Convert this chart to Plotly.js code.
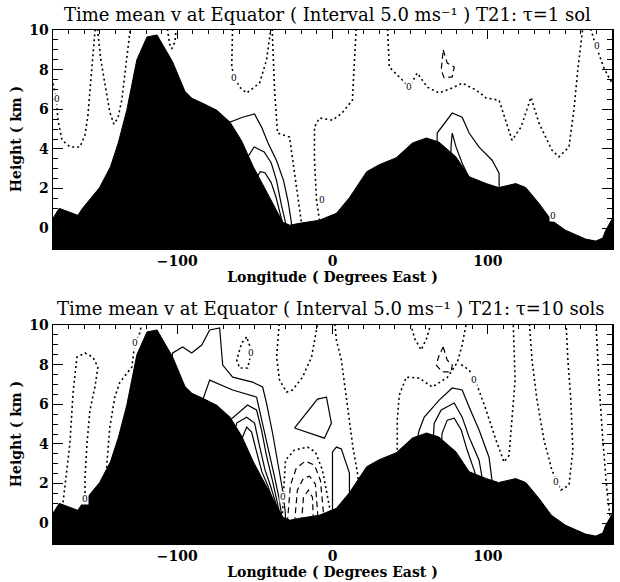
<!DOCTYPE html>
<html>
<head>
<meta charset="utf-8">
<script src="https://cdn.plot.ly/plotly-3.0.1.min.js"></script>
<style>html,body{margin:0;padding:0;background:#fff;}#chart{width:620px;height:582px;}</style>
</head>
<body>
<div id="chart"></div>
<script>
// ---------- axes ----------
const lonRange = [-180, 180];
const hgtRange = [-1, 10];
const lonTicks = [-100, 0, 100];
const hgtTicks = [0, 2, 4, 6, 8, 10];

// ---------- titles ----------
const titleTop = 'Time mean v at Equator ( Interval 5.0 ms⁻¹ ) T21: τ=1 sol';
const titleBot = 'Time mean v at Equator ( Interval 5.0 ms⁻¹ ) T21: τ=10 sols';
const xTitle = 'Longitude ( Degrees East )';
const yTitle = 'Height ( km )';

// ---------- topography along the equator (km) ----------
const topoLon = [-180, -176, -164, -161, -150, -143, -138, -132.5, -126, -119.5, -113, -103, -95, -90.5, -83.5, -74.5, -66, -58.5, -51, -41.5, -32, -27.5, -21, -8.5, 2.5, 11, 22, 30, 41, 51.5, 60.5, 68.5, 79.5, 88, 99, 107, 118, 124.5, 133, 141, 150, 163, 169.5, 174, 176, 180];
const topoHgt = [0.5, 1.0, 0.65, 1.0, 2.05, 3.1, 4.3, 5.95, 8.5, 9.65, 9.75, 8.4, 6.9, 6.55, 6.3, 5.95, 5.35, 4.4, 3.1, 1.7, 0.3, 0.15, 0.25, 0.4, 0.75, 1.55, 2.85, 3.2, 3.55, 4.3, 4.55, 4.35, 3.6, 2.6, 2.25, 2.05, 2.25, 2.05, 1.25, 0.4, -0.1, -0.55, -0.65, -0.5, -0.1, 0.45];

// ---------- tau = 1 sol : zero contours ----------
const t1ZeroALon = [-180, -178, -176.8, -174.2, -169, -162.6, -159.4, -157.5, -155.6, -154.3, -153, -152.6];
const t1ZeroAHgt = [7.3, 6.6, 5.45, 4.45, 4.1, 4.1, 4.7, 5.7, 7.5, 9.0, 10.0, 10.3];
const t1ZeroBLon = [-151.7, -149.2, -145.9, -143.4, -140.8, -138.2, -135.7, -133.1, -131.2, -129.9];
const t1ZeroBHgt = [10.3, 8.5, 6.97, 5.86, 5.25, 5.56, 6.46, 8.23, 9.5, 10.3];
const t1ZeroCLon = [-106.7, -105, -103.5, -101.5, -100.3];
const t1ZeroCHgt = [10.3, 9.3, 9.05, 9.4, 10.3];
const t1ZeroDLon = [-64.3, -64.9, -63, -59.8, -55.3, -47, -42.5, -39.3];
const t1ZeroDHgt = [10.3, 8.13, 7.58, 7.12, 6.82, 7.32, 8.48, 10.3];
const t1ZeroELon = [-39, -37.3, -35.4, -27.7, -23.8, -20, -19.5];
const t1ZeroEHgt = [10.3, 6.97, 4.8, 4.6, 2.42, 0.4, 0];
const t1ZeroFLon = [15.4, 12.8, 6, 0, -8.4, -11.6, -11.6, -10.3, -8.4, -8];
const t1ZeroFHgt = [10.3, 6.46, 5.8, 5.45, 5.56, 5.1, 3.43, 1.41, 0.4, 0];
const t1ZeroGLon = [35.3, 36.6, 43, 49.4, 54.6, 61, 68.7, 77, 83.5, 92.5, 98.9, 107.3, 115.6, 121.4, 127.8, 133, 141.3, 145.8, 152.3, 155.5, 158, 160, 161.5];
const t1ZeroGHgt = [10.3, 8.13, 7.63, 7.12, 7.83, 7.12, 6.82, 7.07, 7.32, 6.97, 6.57, 6.46, 4.44, 5.1, 6.6, 5.3, 3.94, 3.6, 4.09, 6.0, 8.0, 9.5, 10.3];
const t1ZeroHLon = [165.5, 168, 171.5, 174.7, 178, 180.5];
const t1ZeroHHgt = [10.3, 9.6, 8.8, 8.1, 7.6, 7.3];
// tau = 1 sol : negative contour
const t1NegALon = [71.3, 73.9, 78.4, 77.1, 71.9, 70, 71.3];
const t1NegAHgt = [9.0, 8.33, 8.13, 7.63, 7.58, 7.98, 9.0];
// tau = 1 sol : positive contours
const t1PosALon = [-68, -66.2, -57.9, -50.2, -45.7, -41.5, -36, -31.5, -28.5, -26.5, -26];
const t1PosAHgt = [5.0, 5.35, 5.6, 5.76, 5.1, 4.3, 3.4, 2.4, 1.3, 0.3, -0.3];
const t1PosBLon = [-54.5, -50.5, -44, -39.5, -36, -33, -30, -29.5];
const t1PosBHgt = [3.6, 4.1, 3.85, 3.3, 2.4, 1.2, 0.2, -0.3];
const t1PosCLon = [-48.5, -46.5, -43.5, -39.5, -36.5, -33.5, -32, -31.5];
const t1PosCHgt = [2.6, 2.85, 2.8, 2.3, 1.6, 0.7, 0.2, -0.3];
const t1PosDLon = [67.4, 67.4, 77.1, 83.5, 88.0, 94.4, 102.8, 107.3, 107.3];
const t1PosDHgt = [4.2, 4.8, 5.81, 5.6, 4.8, 4.09, 3.43, 2.78, 1.9];
const t1PosELon = [76.2, 76.4, 77.1, 79.6, 83.5, 89.3, 89.8];
const t1PosEHgt = [3.6, 4.19, 4.8, 4.09, 3.28, 2.32, 2.1];
// tau = 1 sol : contour labels
const t1LabLon = [-177.6, -63.2, -6.5, 49.4, 170.5, 141.8];
const t1LabHgt = [6.5, 7.6, 1.4, 7.1, 9.2, 0.6];

// ---------- tau = 10 sols : zero contours ----------
const t10ZeroALon = [-174, -173.6, -169.1, -167.1, -164.6, -159.4, -154.3, -151.1, -153.0, -156.2, -158.1, -159.4, -159.4];
const t10ZeroAHgt = [0.8, 1.0, 4.04, 6.57, 8.38, 8.59, 8.38, 7.88, 6.87, 5.71, 4.04, 2.32, 1.26];
const t10ZeroBLon = [-145.5, -144.7, -143.4, -140.2, -137.0, -129.2, -127.3, -124.1, -122.2];
const t10ZeroBHgt = [2.8, 3.54, 4.85, 6.36, 7.1, 7.88, 9.09, 9.6, 10.3];
const t10ZeroCLon = [-55.3, -58.5, -61.7, -59.8, -54.7, -52.1, -53.5, -55.3];
const t10ZeroCHgt = [9.39, 9.09, 8.23, 7.83, 7.83, 8.64, 9.0, 9.39];
const t10ZeroDLon = [-34.1, -36.0, -34.1, -29.6, -25.8, -19.3, -13.5, -10.3, -9];
const t10ZeroDHgt = [10.3, 8.38, 7.22, 6.62, 6.72, 7.37, 8.38, 9.6, 10.3];
const t10ZeroELon = [-32.5, -32.2, -30.3, -24.5, -16.1, -11.0, -6.5, -3.9, -1.3, -1.0];
const t10ZeroEHgt = [0.0, 0.56, 3.18, 3.69, 3.84, 3.59, 2.68, 1.67, 0.56, 0.0];
const t10ZeroFLon = [1.2, 2.5, 5.7, 8.3, 10.9, 13.4, 16, 17];
const t10ZeroFHgt = [10.3, 9.24, 8.23, 6.72, 5.2, 3.69, 2.58, 1.8];
const t10ZeroGLon = [49.4, 53, 57.1, 60.5, 64.2];
const t10ZeroGHgt = [10.3, 9.3, 8.74, 9.3, 10.3];
const t10ZeroHLon = [41.7, 41.7, 43, 47.5, 55.9, 64.2, 73.9, 80.3, 83.5, 86.7];
const t10ZeroHHgt = [3.2, 5.2, 6.46, 7.37, 7.32, 6.87, 7.35, 8.1, 8.99, 10.3];
const t10ZeroILon = [82.9, 88, 93.1, 98.9, 105.3, 110.5, 113.7, 115.6, 117.6, 116.3];
const t10ZeroIHgt = [8.0, 7.73, 6.97, 5.71, 4.19, 3.08, 3.43, 5.2, 7.22, 10.3];
const t10ZeroJLon = [126.6, 128.5, 131.7, 136.2, 141.3, 147.1, 152.3, 154.8, 153.5, 151.6, 150.3];
const t10ZeroJHgt = [10.3, 8.23, 6.21, 4.19, 2.68, 1.67, 1.92, 3.69, 6.21, 8.23, 10.3];
const t10ZeroKLon = [169.6, 171.5, 174.1, 176.7, 178.6, 179.5];
const t10ZeroKHgt = [10.3, 7.22, 4.19, 1.67, 0.4, 0];
// tau = 10 sols : negative contours
const t10NegALon = [-29.1, -27.1, -23.3, -17.5, -11.6, -7.8, -5.2];
const t10NegAHgt = [0.0, 1.92, 2.78, 3.13, 2.93, 2.17, 0.0];
const t10NegBLon = [-24.5, -22.6, -18.7, -14.8, -11.0, -9.1];
const t10NegBHgt = [0.0, 1.67, 2.27, 2.37, 1.97, 0.0];
const t10NegCLon = [-20.0, -18.7, -15.5, -12.9, -12.3];
const t10NegCHgt = [0.0, 1.31, 1.67, 1.31, 0.0];
const t10NegDLon = [71.3, 73.9, 77.1, 76.4, 70.6, 66.8, 68.7, 71.3];
const t10NegDHgt = [8.89, 8.23, 7.98, 7.63, 7.63, 7.98, 8.48, 8.89];
// tau = 10 sols : positive contours
const t10PosALon = [-103.5, -102.9, -96.5, -90.7, -84.2, -79.1, -72.7, -70.7, -64.3, -51.5, -45.0, -42.5, -38.6, -35, -32, -30.5, -30];
const t10PosAHgt = [8.3, 8.59, 8.89, 8.59, 8.99, 9.75, 9.85, 7.98, 7.37, 7.12, 6.87, 6.06, 4.55, 3.0, 1.6, 0.6, 0.0];
const t10PosBLon = [-84, -83.6, -79.1, -64.3, -48.9, -45.0, -41, -37.5, -34.5, -32.5, -32];
const t10PosBHgt = [5.9, 6.21, 7.22, 6.72, 6.36, 5.05, 3.7, 2.4, 1.3, 0.4, 0.0];
const t10PosCLon = [-69, -68.2, -54.7, -48.9, -45.7, -42.5, -38.5, -35.5, -33.8, -33.5];
const t10PosCHgt = [4.9, 5.05, 5.96, 5.71, 4.7, 3.4, 2.1, 1.1, 0.4, 0.0];
const t10PosDLon = [-62, -61.7, -55.3, -50.2, -47.0, -43.5, -40, -36.5, -35, -34.8];
const t10PosDHgt = [4.9, 5.05, 5.35, 5.05, 3.9, 2.7, 1.9, 1.0, 0.4, 0.0];
const t10PosELon = [-58.2, -57.9, -55.3, -52.1, -48.9, -45.5, -42, -38, -36.2, -36];
const t10PosEHgt = [4.2, 4.34, 4.85, 4.6, 3.6, 2.6, 1.95, 1.1, 0.5, 0.0];
const t10PosFLon = [-24.5, -9.7, -3.9, -0.7, -5.2, -24.5];
const t10PosFHgt = [4.8, 6.26, 6.36, 5.05, 4.29, 4.8];
const t10PosGLon = [0, 0, 2.5, 5.7, 10.9, 10.9];
const t10PosGHgt = [0.2, 3.6, 3.84, 3.74, 2.53, 1.3];
const t10PosHLon = [55, 55.9, 59.1, 68.7, 77.1, 83.5, 88.0, 94.4, 100.8, 102.8, 103];
const t10PosHHgt = [4.4, 4.7, 5.35, 6.21, 6.82, 6.72, 5.86, 4.7, 3.33, 2.32, 2.0];
const t10PosILon = [65, 65.5, 70, 78.4, 83.5, 88, 94.4, 96.3, 96.5];
const t10PosIHgt = [4.4, 5.05, 5.71, 6.06, 5.35, 4.34, 3.18, 2.32, 2.0];
const t10PosJLon = [70.3, 70.6, 73.9, 78.4, 82.9, 86.7, 91.2, 92.5, 92.7];
const t10PosJHgt = [4.2, 4.55, 5.2, 5.3, 4.7, 3.69, 2.68, 2.32, 2.1];
// tau = 10 sols : contour labels
const t10LabLon = [-159.4, -127.3, -52.6, -32.0, 91.2, 143.9];
const t10LabHgt = [1.2, 9.1, 8.6, 1.3, 7.2, 2.1];

// ---------- build ----------
const serif = 'DejaVu Serif, Liberation Serif, serif';
const traces = [];
function contour(lon, hgt, kind, p) {
  traces.push({
    type: 'scatter', mode: 'lines', x: lon, y: hgt,
    xaxis: p.x, yaxis: p.y, hoverinfo: 'skip', showlegend: false,
    line: {
      color: 'black', shape: 'linear',
      width: kind === 'zero' ? 1.6 : 1.2,
      dash: kind === 'zero' ? '2px,3px' : (kind === 'neg' ? '6px,4px' : 'solid')
    }
  });
}
function topo(p) {
  traces.push({
    type: 'scatter', mode: 'lines', fill: 'toself', fillcolor: 'black',
    x: topoLon.concat([lonRange[1], lonRange[0]]),
    y: topoHgt.concat([hgtRange[0] - 0.5, hgtRange[0] - 0.5]),
    xaxis: p.x, yaxis: p.y, hoverinfo: 'skip', showlegend: false,
    line: {color: 'black', width: 1}
  });
}
const P1 = {x: 'x', y: 'y'};
const P2 = {x: 'x2', y: 'y2'};

[[t1ZeroALon, t1ZeroAHgt], [t1ZeroBLon, t1ZeroBHgt], [t1ZeroCLon, t1ZeroCHgt], [t1ZeroDLon, t1ZeroDHgt],
 [t1ZeroELon, t1ZeroEHgt], [t1ZeroFLon, t1ZeroFHgt], [t1ZeroGLon, t1ZeroGHgt], [t1ZeroHLon, t1ZeroHHgt]]
  .forEach(c => contour(c[0], c[1], 'zero', P1));
contour(t1NegALon, t1NegAHgt, 'neg', P1);
[[t1PosALon, t1PosAHgt], [t1PosBLon, t1PosBHgt], [t1PosCLon, t1PosCHgt], [t1PosDLon, t1PosDHgt], [t1PosELon, t1PosEHgt]]
  .forEach(c => contour(c[0], c[1], 'pos', P1));
topo(P1);

[[t10ZeroALon, t10ZeroAHgt], [t10ZeroBLon, t10ZeroBHgt], [t10ZeroCLon, t10ZeroCHgt], [t10ZeroDLon, t10ZeroDHgt],
 [t10ZeroELon, t10ZeroEHgt], [t10ZeroFLon, t10ZeroFHgt], [t10ZeroGLon, t10ZeroGHgt], [t10ZeroHLon, t10ZeroHHgt],
 [t10ZeroILon, t10ZeroIHgt], [t10ZeroJLon, t10ZeroJHgt], [t10ZeroKLon, t10ZeroKHgt]]
  .forEach(c => contour(c[0], c[1], 'zero', P2));
[[t10NegALon, t10NegAHgt], [t10NegBLon, t10NegBHgt], [t10NegCLon, t10NegCHgt], [t10NegDLon, t10NegDHgt]]
  .forEach(c => contour(c[0], c[1], 'neg', P2));
[[t10PosALon, t10PosAHgt], [t10PosBLon, t10PosBHgt], [t10PosCLon, t10PosCHgt], [t10PosDLon, t10PosDHgt],
 [t10PosELon, t10PosEHgt], [t10PosFLon, t10PosFHgt], [t10PosGLon, t10PosGHgt], [t10PosHLon, t10PosHHgt],
 [t10PosILon, t10PosIHgt], [t10PosJLon, t10PosJHgt]]
  .forEach(c => contour(c[0], c[1], 'pos', P2));
topo(P2);

const annotations = [];
function zeroLabels(lons, hgts, p) {
  lons.forEach((lo, i) => annotations.push({
    x: lo, y: hgts[i], xref: p.x, yref: p.y, text: '0', showarrow: false,
    font: {family: serif, size: 9, color: 'black'}, bgcolor: 'white', borderpad: 0
  }));
}
zeroLabels(t1LabLon, t1LabHgt, P1);
zeroLabels(t10LabLon, t10LabHgt, P2);
annotations.push({text: titleTop, xref: 'paper', yref: 'paper', x: 0.529, y: 1 - 14 / 582,
  xanchor: 'center', yanchor: 'middle', showarrow: false, font: {family: serif, size: 18, color: 'black'}});
annotations.push({text: titleBot, xref: 'paper', yref: 'paper', x: 0.534, y: 1 - 308 / 582,
  xanchor: 'center', yanchor: 'middle', showarrow: false, font: {family: serif, size: 18, color: 'black'}});

const tickFont = {family: serif, size: 14, color: 'black', weight: 'bold'};
const titleFont = {family: serif, size: 14, color: 'black', weight: 'bold'};
function xAxis(anchor) {
  return {
    domain: [53 / 620, 612 / 620], anchor: anchor, range: lonRange,
    tickvals: lonTicks, ticks: 'inside', ticklen: 9, tickwidth: 1, tickcolor: 'black',
    minor: {dtick: 10, tick0: 0, ticks: 'inside', ticklen: 4, tickcolor: 'black', tickwidth: 1},
    showline: true, linecolor: 'black', linewidth: 1.5, mirror: 'ticks',
    showgrid: false, zeroline: false, tickfont: tickFont,
    title: {text: xTitle, font: titleFont, standoff: 3}
  };
}
function yAxis(anchor, top, bottom) {
  return {
    domain: [1 - bottom / 582, 1 - top / 582], anchor: anchor, range: hgtRange,
    tickvals: hgtTicks, ticks: 'inside', ticklen: 10, tickwidth: 1, tickcolor: 'black',
    minor: {dtick: 0.5, tick0: 0, ticks: 'inside', ticklen: 5, tickcolor: 'black', tickwidth: 1},
    showline: true, linecolor: 'black', linewidth: 1.5, mirror: 'ticks',
    showgrid: false, zeroline: false, tickfont: tickFont,
    title: {text: yTitle, font: titleFont, standoff: 4}
  };
}

const layout = {
  width: 620, height: 582,
  margin: {l: 0, r: 0, t: 0, b: 0},
  paper_bgcolor: 'white', plot_bgcolor: 'white',
  showlegend: false,
  xaxis: xAxis('y'), yaxis: yAxis('x', 30, 248),
  xaxis2: xAxis('y2'), yaxis2: yAxis('x2', 325, 543),
  annotations: annotations
};

Plotly.newPlot('chart', traces, layout, {staticPlot: true, displayModeBar: false});
</script>
</body>
</html>
